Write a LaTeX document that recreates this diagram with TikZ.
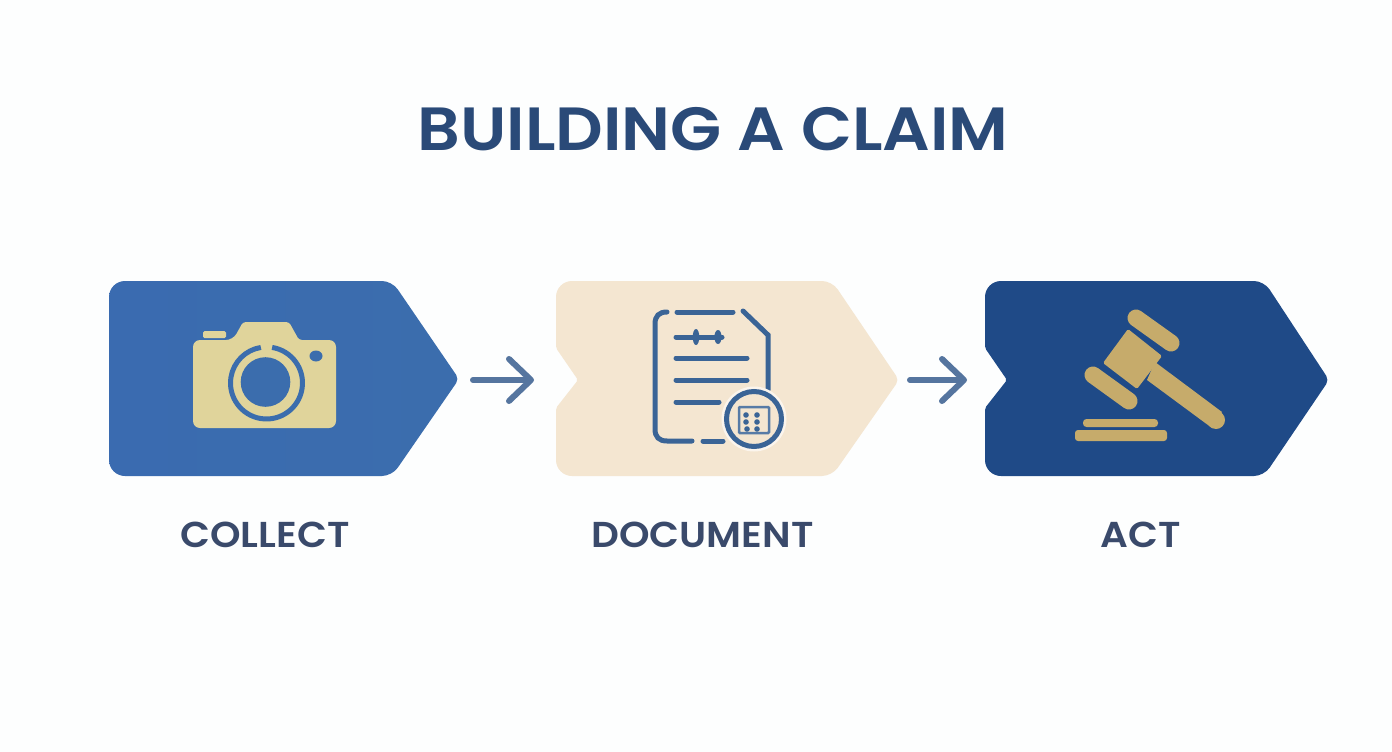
\documentclass[tikz,border=0pt]{standalone}
\usepackage{fontspec}
\setmainfont{Poppins}
\newfontfamily\titlefont{Poppins SemiBold}[FakeStretch=1.09]
\newfontfamily\labelfont{Poppins SemiBold}[FakeStretch=1.08]
\usetikzlibrary{arrows.meta}
\definecolor{bgc}{HTML}{FDFEFE}
\definecolor{blueA}{HTML}{3B6DAD}
\definecolor{blueB}{HTML}{3A6BB0}
\definecolor{creamA}{HTML}{F4E6D1}
\definecolor{navyA}{HTML}{1F4A87}
\definecolor{titlec}{HTML}{2A4A78}
\definecolor{labelc}{HTML}{3A4A6B}
\definecolor{arrowc}{HTML}{55759F}
\definecolor{camc}{HTML}{E0D49B}
\definecolor{docc}{HTML}{3A6496}
\definecolor{gavc}{HTML}{C6AB6B}
\tikzset{
  x=1pt,y=-1pt,
  titletext/.style={font=\fontsize{61}{61}\selectfont\titlefont,text=titlec,inner sep=0,anchor=center},
  steplabel/.style={font=\fontsize{36}{36}\selectfont\labelfont,text=labelc,inner sep=0,anchor=center},
  flowarrow/.style={draw=arrowc,line width=6pt,line cap=round,-{Straight Barb[length=22pt,width=42pt,round]}},
  docline/.style={draw=docc,line width=5pt,line cap=round},
  gavelbar/.style={draw=gavc,line width=17pt,line cap=round},
}
\begin{document}
\begin{tikzpicture}
\path[fill=bgc] (0,0) rectangle (1392,752);
\useasboundingbox (0,0) rectangle (1392,752);

% step shapes
\path[left color=blueB,right color=blueA]
  (109,380) [rounded corners=16] -- (109,281) [rounded corners=10] -- (392,281) [rounded corners=5] -- (459,379) [rounded corners=10] -- (392,476) [rounded corners=16] -- (109,476) -- cycle;
\path[fill=creamA]
  (556,330) [rounded corners=16] -- (556,281) [rounded corners=10] -- (832,281) [rounded corners=5] -- (899,380) [rounded corners=10] -- (832,476) [rounded corners=16] -- (556,476)
  [rounded corners=2] -- (556,408) -- (578,380) -- (556,348) -- cycle;
\path[fill=navyA]
  (985,330) [rounded corners=16] -- (985,281) [rounded corners=10] -- (1264,281) [rounded corners=5] -- (1329,380) [rounded corners=10] -- (1264,476) [rounded corners=16] -- (985,476)
  [rounded corners=2] -- (985,408) -- (1007,380) -- (985,348) -- cycle;

\coordinate (collecttip) at (457,380);
\coordinate (docnotch) at (578,380);
\coordinate (doctip) at (897,380);
\coordinate (actnotch) at (1007,380);
\draw[flowarrow] ([xshift=16pt]collecttip) -- ([xshift=-44pt]docnotch);
\draw[flowarrow] ([xshift=13pt]doctip) -- ([xshift=-40pt]actnotch);

% camera
\fill[camc,rounded corners=7] (193,340) -- (233,340) [rounded corners=3] -- (243,322) -- (289,322) -- (299,340) [rounded corners=7] -- (336,340) -- (336,428) -- (193,428) -- cycle;
\fill[camc,rounded corners=1.5] (203,331) rectangle (226,338);
\fill[blueA] (316,356) ellipse [x radius=6.5pt,y radius=5.5pt];
\fill[blueA] (265.5,382) circle [radius=24.8pt];
\draw[blueA,line width=5pt] (266.5,383) ++(-81:36) arc [start angle=81,end angle=-261,radius=36pt];

% document icon
\draw[docline] (667,312) .. controls (659,312) and (655,316) .. (655,324) -- (655,429) .. controls (655,437) and (659,441) .. (667,441) -- (692,441);
\draw[docline] (677,312) -- (733,312);
\draw[docline] (743,311) -- (768,335) -- (768,390);
\draw[docline] (703,441) -- (723,441);
\draw[docline] (676,337) -- (722,337);
\fill[docc] (696,337) ellipse [x radius=3.3pt,y radius=8pt];
\fill[docc] (718,337) ellipse [x radius=3.6pt,y radius=7pt];
\draw[docline] (676,358) -- (747,358);
\draw[docline] (676,380) -- (747,380);
\draw[docline] (676,402) -- (719,402);
\fill[creamA!40!white] (754,419) circle [radius=32.5pt];
\fill[creamA,draw=docc,line width=5pt] (754,419) circle [radius=27.5pt];
\draw[docc!85,line width=2.5pt,rounded corners=1] (739,407) rectangle (769,433);
\foreach \px/\py in {746/415,757/415,746/422,757/422,747/429,757/429}
  \fill[docc] (\px,\py) circle [radius=2.8pt];

% gavel
\draw[gavelbar] (1136,318) -- (1171,343);
\draw[gavelbar] (1093,375) -- (1129,401);
\fill[gavc,rounded corners=1.5] (1128,329) -- (1162,356) -- (1137,389) -- (1103,363) -- cycle;
\fill[gavc] (1155,362) -- (1222,412) -- (1212,428) -- (1147,380) -- cycle;
\fill[gavc] (1216,420) circle [radius=9pt];
\fill[gavc,rounded corners=3.5] (1083,419) rectangle (1158,427);
\fill[gavc,rounded corners=3] (1075,441) -- (1075,430) -- (1167,430) -- (1167,441) -- cycle;

% text
\node[titletext] (title) at (713,129) {BUILDING A CLAIM};
\node[steplabel] (collect) at (265,535) {COLLECT};
\node[steplabel] (document) at (702.5,535) {DOCUMENT};
\node[steplabel] (act) at (1140.5,535) {ACT};
\end{tikzpicture}
\end{document}
